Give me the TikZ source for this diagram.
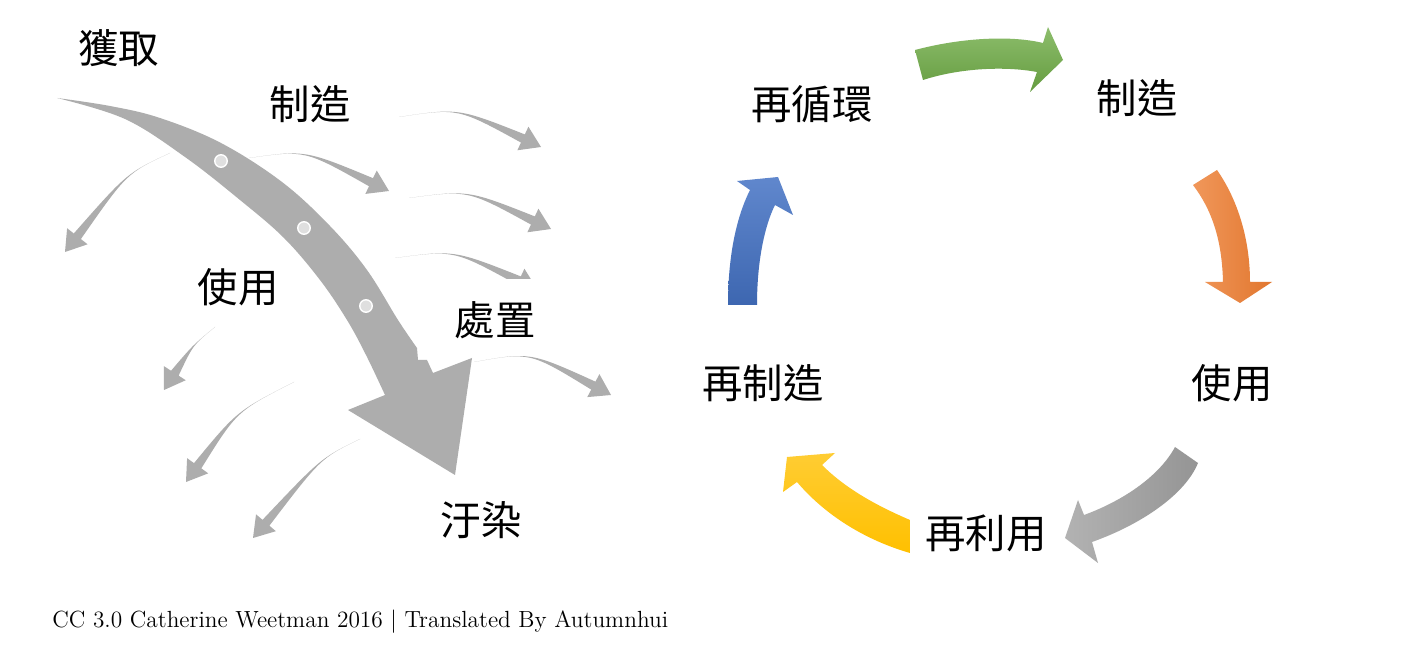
\documentclass[tikz,border=0pt]{standalone}
\usepackage{fontspec}
\newfontfamily\cjk{Noto Sans CJK TC}
\usepackage{tikz}
\usetikzlibrary{calc}
\definecolor{arrgray}{HTML}{ADADAD}
\definecolor{cycgreen}{HTML}{70AD47}
\definecolor{cycorange}{HTML}{ED7D31}
\definecolor{cycgray}{HTML}{A5A5A5}
\definecolor{cycyellow}{HTML}{FFC000}
\definecolor{cycblue}{HTML}{4472C4}
\tikzset{
  lbl/.style={font=\cjk\fontsize{23}{23}\selectfont, inner sep=0pt},
  thinarr/.style={fill=arrgray},
  ringdot/.style={circle, fill=gray!25, draw=white, line width=0.8pt, minimum size=0.25cm, inner sep=0pt},
}
% tapered grey arrow: tail, bend control, tip
\newcommand{\thinarrow}[3]{%
  \coordinate (hb) at ($(#3)!0.4cm!(#2)$);
  \fill[thinarr] (#1) .. controls (#2) .. ($(hb)!0.09cm!90:(#3)$) -- ($(hb)!0.26cm!90:(#3)$) -- (#3)
    -- ($(hb)!0.26cm!-90:(#3)$) -- ($(hb)!0.09cm!-90:(#3)$) .. controls (#2) .. (#1) -- cycle;
}
\begin{document}
\begin{tikzpicture}[x=0.02cm, y=-0.02cm]
  \fill[white] (0,0) rectangle (1424,658);
  \useasboundingbox (0,0) rectangle (1424,658);
  % Linear economy: the big falling arrow
  \fill[arrgray] plot[smooth, tension=0.6] coordinates {(57,98) (110,106) (160,118) (221,143) (282,182) (330,226) (367,270) (398,320) (417,348)}
    -- (418,360) -- (427,360) -- (433,373) -- (472,358) -- (455,475) -- (348,410) -- (385,395)
    -- plot[smooth, tension=0.6] coordinates {(385,395) (366,355) (347,320) (320,280) (284,238) (240,200) (185,157) (125,119) (57,98)} -- cycle;
  \node[ringdot] (d1) at (221,161) {};
  \node[ringdot] (d2) at (304,228) {};
  \node[ringdot] (d3) at (366,306) {};
  % Waste arrows to the right
  \thinarrow{399,117}{458,108}{541,147}
  \thinarrow{249,158}{305,150}{389,191}
  \thinarrow{409,198}{468,190}{551,229}
  \begin{scope}
    \clip (0,0) rectangle (531,279);
    \thinarrow{395,258}{454,250}{537,289}
  \end{scope}
  \thinarrow{474,362}{530,352}{611,395}
  % Waste arrows to the left
  \thinarrow{170,153}{127,173}{65,252}
  \thinarrow{215,327}{193,345}{164,390}
  \thinarrow{294,382}{237,411}{186,482}
  \thinarrow{360,439}{321,458}{253,538}
  % Labels of the linear chain
  \node[lbl] (acquire) at (119,48) {獲取};
  \node[lbl] (make) at (310,104) {制造};
  \node[lbl] (use) at (238,287) {使用};
  \node[lbl] (dispose) at (495,320) {處置};
  \node[lbl] (pollute) at (481,520) {汙染};
  % Circular economy
  \shade[top color=cycgreen!80!white, bottom color=cycgreen!90!black] (915,50) .. controls (960,38) and (1010,35) .. (1043,43) -- (1048,27) -- (1063,60) -- (1030,92) -- (1037,72) .. controls (1005,66) and (960,68) .. (923,80) -- cycle;
  \shade[left color=cycorange!80!white, right color=cycorange!95!black] (1217,170) .. controls (1238,200) and (1250,240) .. (1250,282) -- (1272,282) -- (1240,303) -- (1205,282) -- (1223,282) .. controls (1222,240) and (1212,210) .. (1193,185) -- cycle;
  \shade[left color=cycgray!85!white, right color=cycgray!90!black] (1175,447) .. controls (1160,475) and (1125,500) .. (1084,515) -- (1078,500) -- (1065,538) -- (1098,563) -- (1092,542) .. controls (1140,525) and (1185,495) .. (1198,463) -- cycle;
  \shade[top color=cycyellow!80!white, bottom color=cycyellow] (910,520) .. controls (875,505) and (845,488) .. (822,465) -- (835,453) -- (787,457) -- (783,492) -- (797,482) .. controls (825,515) and (865,540) .. (910,553) -- cycle;
  \shade[top color=cycblue!85!white, bottom color=cycblue!90!black] (728,305) .. controls (728,260) and (735,220) .. (750,190) -- (737,181) -- (778,177) -- (793,215) -- (775,205) .. controls (765,225) and (757,260) .. (757,305) -- cycle;
  \node[lbl] (recycle) at (812,104) {再循環};
  \node[lbl] (make2) at (1137,98) {制造};
  \node[lbl] (use2) at (1232,383) {使用};
  \node[lbl] (reuse) at (986,533) {再利用};
  \node[lbl] (remake) at (763,383) {再制造};
  % Credit line
  \node[anchor=west, inner sep=0pt, font=\fontsize{13.3}{14}\selectfont] (credit) at (52,622) {CC 3.0 Catherine Weetman 2016 | Translated By Autumnhui};
\end{tikzpicture}
\end{document}
